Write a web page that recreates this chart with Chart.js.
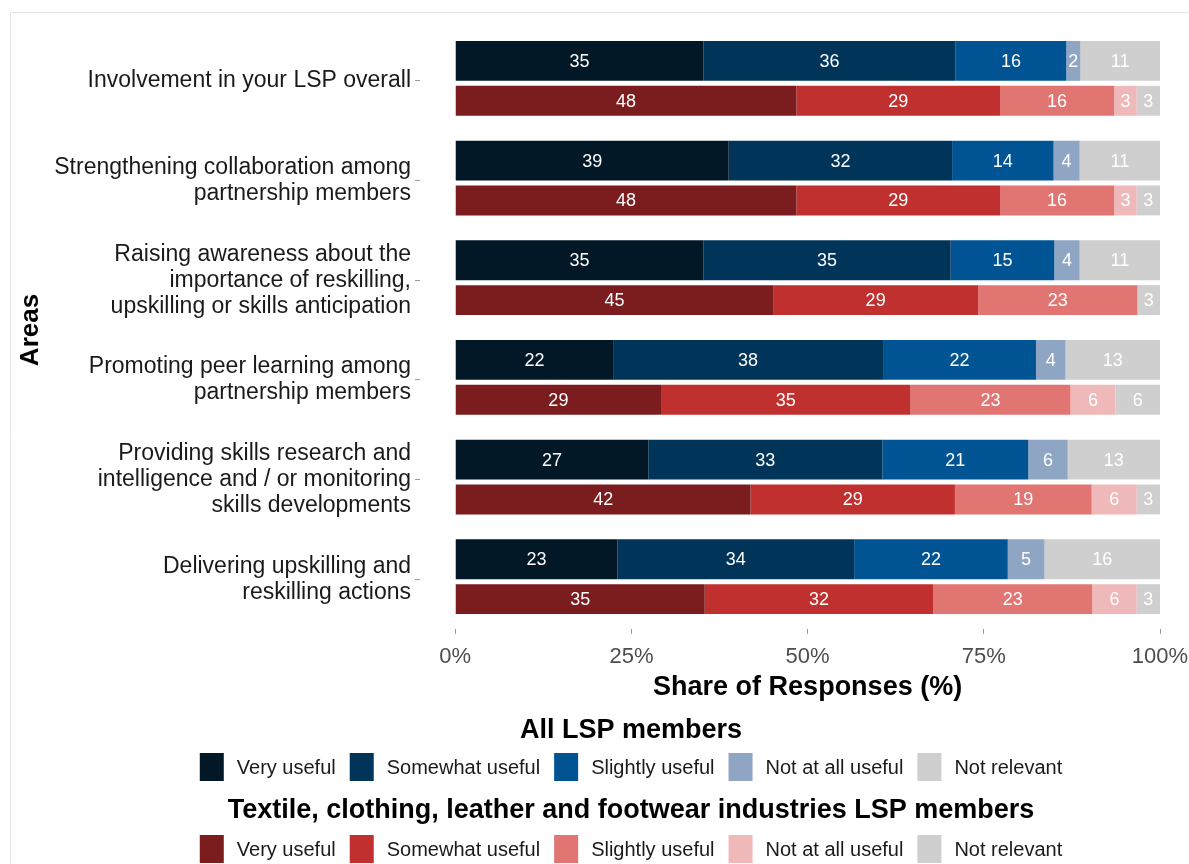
<!DOCTYPE html>
<html>
<head>
<meta charset="utf-8">
<script src="https://cdn.jsdelivr.net/npm/chart.js@4.4.0/dist/chart.umd.min.js"></script>
<style>
  html, body { margin: 0; padding: 0; background: #fff; }
  #wrap { position: relative; width: 1189px; height: 864px; }
</style>
</head>
<body>
<div id="wrap"><canvas id="chart"></canvas></div>
<script>
const AREAS = [
  ['Involvement in your LSP overall'],
  ['Strengthening collaboration among', 'partnership members'],
  ['Raising awareness about the', 'importance of reskilling,', 'upskilling or skills anticipation'],
  ['Promoting peer learning among', 'partnership members'],
  ['Providing skills research and', 'intelligence and / or monitoring', 'skills developments'],
  ['Delivering upskilling and', 'reskilling actions']
];
const RESPONSES = ['Very useful', 'Somewhat useful', 'Slightly useful', 'Not at all useful', 'Not relevant'];
const X_TICKS = [0, 25, 50, 75, 100];

// All LSP members (% of responses)
const ALL_VERY = [35.2, 38.8, 35.2, 22.4, 27.4, 23.0];
const ALL_SOMEWHAT = [35.8, 31.7, 35.1, 38.3, 33.2, 33.6];
const ALL_SLIGHTLY = [15.7, 14.4, 14.7, 21.7, 20.7, 21.8];
const ALL_NOT_AT_ALL = [2.0, 3.7, 3.6, 4.2, 5.6, 5.2];
const ALL_NOT_RELEVANT = [11.3, 11.4, 11.4, 13.4, 13.1, 16.4];

// Textile, clothing, leather and footwear industries LSP members
const TCLF_VERY = [48.4, 48.4, 45.1, 29.2, 41.9, 35.4];
const TCLF_SOMEWHAT = [28.9, 28.9, 29.1, 35.4, 29.0, 32.4];
const TCLF_SLIGHTLY = [16.2, 16.2, 22.6, 22.7, 19.4, 22.6];
const TCLF_NOT_AT_ALL = [3.2, 3.2, 0, 6.4, 6.4, 6.3];
const TCLF_NOT_RELEVANT = [3.3, 3.3, 3.2, 6.3, 3.3, 3.3];

const ALL_COLORS = ['#021826', '#003459', '#005494', '#8fa5c4', '#cfcfcf'];
const TCLF_COLORS = ['#7b1c1e', '#c0302e', '#e07572', '#f0b9b9', '#cfcfcf'];

const FONT = '"Liberation Sans", Arial, sans-serif';

const allSeries = [ALL_VERY, ALL_SOMEWHAT, ALL_SLIGHTLY, ALL_NOT_AT_ALL, ALL_NOT_RELEVANT];
const tclfSeries = [TCLF_VERY, TCLF_SOMEWHAT, TCLF_SLIGHTLY, TCLF_NOT_AT_ALL, TCLF_NOT_RELEVANT];

const datasets = [];
allSeries.forEach((data, i) => {
  datasets.push({
    label: 'All LSP members - ' + RESPONSES[i],
    data,
    stack: 'all',
    backgroundColor: ALL_COLORS[i],
    categoryPercentage: 0.8,
    barPercentage: 1.0
  });
});
tclfSeries.forEach((data, i) => {
  datasets.push({
    label: 'TCLF LSP members - ' + RESPONSES[i],
    data,
    stack: 'tclf',
    backgroundColor: TCLF_COLORS[i],
    categoryPercentage: 0.8,
    barPercentage: 0.75
  });
});

// thin gray edge of the screenshot
const frame = {
  id: 'frame',
  beforeDraw(chart) {
    const ctx = chart.ctx;
    ctx.save();
    ctx.strokeStyle = '#e4e4e4';
    ctx.lineWidth = 1;
    ctx.beginPath();
    ctx.moveTo(10.5, 864);
    ctx.lineTo(10.5, 12.5);
    ctx.lineTo(1189, 12.5);
    ctx.stroke();
    ctx.restore();
  }
};

const valueLabels = {
  id: 'valueLabels',
  afterDatasetsDraw(chart) {
    const ctx = chart.ctx;
    ctx.save();
    ctx.font = '18px ' + FONT;
    ctx.fillStyle = '#ffffff';
    ctx.textAlign = 'center';
    ctx.textBaseline = 'middle';
    chart.data.datasets.forEach((ds, i) => {
      chart.getDatasetMeta(i).data.forEach((bar, j) => {
        const v = ds.data[j];
        if (!v) return;
        ctx.fillText(String(Math.round(v)), (bar.x + bar.base) / 2, bar.y + 1);
      });
    });
    ctx.restore();
  }
};

// x title centred on the 0-100% span, not on the expanded scale
const xTitle = {
  id: 'xTitle',
  afterDraw(chart) {
    const ctx = chart.ctx;
    const x = chart.scales.x;
    ctx.save();
    ctx.font = 'bold 27px ' + FONT;
    ctx.fillStyle = '#000';
    ctx.textAlign = 'center';
    ctx.textBaseline = 'middle';
    ctx.fillText('Share of Responses (%)', x.getPixelForValue(50), 688);
    ctx.restore();
  }
};

function drawLegendGroup(ctx, title, colors, yTitle, yRow) {
  const cx = 631;
  ctx.fillStyle = '#000';
  ctx.textAlign = 'center';
  ctx.textBaseline = 'middle';
  ctx.font = 'bold 27px ' + FONT;
  ctx.fillText(title, cx, yTitle);

  ctx.font = '20px ' + FONT;
  const box = 24, gap = 13, space = 14;
  const widths = RESPONSES.map((t) => ctx.measureText(t).width);
  const total = widths.reduce((a, w) => a + box + gap + w, 0) + space * (RESPONSES.length - 1);
  let x = cx - total / 2;
  ctx.textAlign = 'left';
  RESPONSES.forEach((t, i) => {
    ctx.fillStyle = colors[i];
    ctx.fillRect(x, yRow - 14, box, 28);
    ctx.fillStyle = '#1a1a1a';
    ctx.fillText(t, x + box + gap, yRow + 1);
    x += box + gap + widths[i] + space;
  });
}

const legends = {
  id: 'legends',
  afterDraw(chart) {
    const ctx = chart.ctx;
    ctx.save();
    drawLegendGroup(ctx, 'All LSP members', ALL_COLORS, 731, 767);
    drawLegendGroup(ctx, 'Textile, clothing, leather and footwear industries LSP members', TCLF_COLORS, 811, 849);
    ctx.restore();
  }
};

Chart.defaults.font.family = FONT;

new Chart(document.getElementById('chart'), {
  type: 'bar',
  data: { labels: AREAS, datasets },
  plugins: [frame, valueLabels, xTitle, legends],
  options: {
    indexAxis: 'y',
    responsive: true,
    maintainAspectRatio: false,
    animation: false,
    layout: { padding: { left: 10, right: 29, top: 31, bottom: 160 } },
    plugins: {
      legend: { display: false },
      tooltip: { enabled: false }
    },
    scales: {
      x: {
        stacked: true,
        min: -5,
        max: 100,
        afterBuildTicks(s) { s.ticks = X_TICKS.map((v) => ({ value: v })); },
        afterFit(s) {
          s.height = 75;
          s.paddingLeft = 0;
          s.paddingRight = 0;
        },
        grid: { drawOnChartArea: false, tickLength: 5, tickColor: '#9a9a9a', lineWidth: 1 },
        border: { display: false },
        ticks: {
          callback: (v) => v + '%',
          color: '#4d4d4d',
          font: { size: 22 },
          padding: 10,
          maxRotation: 0
        },
        title: { display: false }
      },
      y: {
        stacked: true,
        afterFit(s) {
          s.width = 410;
          s.paddingTop = 0;
          s.paddingBottom = 0;
        },
        grid: { offset: false, drawOnChartArea: false, tickLength: 5, tickColor: '#9a9a9a' },
        border: { display: false },
        ticks: {
          autoSkip: false,
          color: '#1a1a1a',
          font: { size: 23, lineHeight: 1.13 },
          padding: 4
        },
        title: {
          display: true,
          text: 'Areas',
          color: '#000',
          font: { size: 26, weight: 'bold' },
          padding: { top: 5, bottom: 0 }
        }
      }
    }
  }
});
</script>
</body>
</html>
